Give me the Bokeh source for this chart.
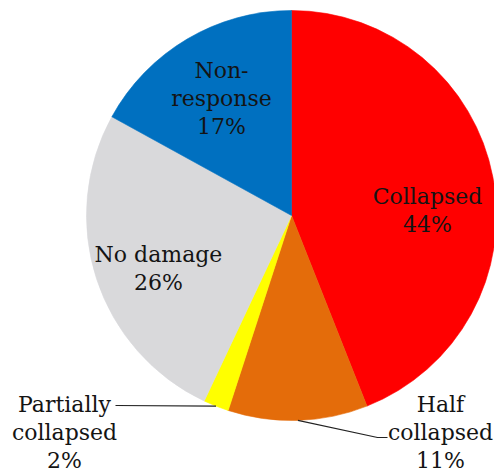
import math

from bokeh.embed import file_html
from bokeh.models import ColumnDataSource, Label, Range1d
from bokeh.plotting import figure
from bokeh.resources import INLINE

# Building damage survey shares, clockwise from 12 o'clock
categories = ["Collapsed", "Half collapsed", "Partially collapsed", "No damage", "Non-response"]
label_lines = [["Collapsed"], ["Half", "collapsed"], ["Partially", "collapsed"],
               ["No damage"], ["Non-", "response"]]
shares = [44, 11, 2, 26, 17]
colors = ["#FF0000", "#E46C0A", "#FFFF00", "#D9D9DB", "#0070C0"]

W, H = 494, 472
CX, CY, R = 291, 215, 205          # pie centre and radius in screen pixels
FONT = "DejaVu Serif"
FONT_SIZE = "22px"
LINE_STEP = 28


def sy(y_px):
    """Screen-pixel y (top-down) to data y (bottom-up)."""
    return H - y_px


p = figure(width=W, height=H, x_range=Range1d(0, W), y_range=Range1d(0, H),
           output_backend="svg", toolbar_location=None, min_border=0)
p.axis.visible = False
p.grid.visible = False
p.outline_line_color = None
p.background_fill_color = "white"
p.border_fill_color = "white"

total = float(sum(shares))
starts, ends, mids = [], [], []
cum = 0.0
for v in shares:
    a0 = math.pi / 2 - 2 * math.pi * cum / total
    cum += v
    a1 = math.pi / 2 - 2 * math.pi * cum / total
    starts.append(a0)
    ends.append(a1)
    mids.append((a0 + a1) / 2)

src = ColumnDataSource(dict(cat=categories, start=starts, end=ends, color=colors))
p.wedge(x=CX, y=sy(CY), radius=R, start_angle="start", end_angle="end",
        direction="clock", fill_color="color", line_color="color", line_width=0.6,
        source=src)

# Label anchor: centre x and first baseline (screen px) for each slice
label_anchor = {
    "Collapsed": (427, 196),
    "Half collapsed": (440, 404),
    "Partially collapsed": (64, 404),
    "No damage": (158, 254),
    "Non-response": (221, 70),
}

for cat, lines, v in zip(categories, label_lines, shares):
    ax, ay = label_anchor[cat]
    all_lines = lines + [f"{v}%"]
    for i, s in enumerate(all_lines):
        p.add_layout(Label(x=ax, y=sy(ay + i * LINE_STEP), text=s,
                           text_font=FONT, text_font_size=FONT_SIZE,
                           text_color="#141414", text_align="center",
                           text_baseline="alphabetic"))

# Leader lines from the small outer slices to their labels
leader_ends = {
    "Partially collapsed": [(115, 405)],
    "Half collapsed": [(377, 437), (387, 437)],
}
for cat, pts in leader_ends.items():
    i = categories.index(cat)
    px = CX + R * math.cos(mids[i])
    py = sy(CY) + R * math.sin(mids[i])
    xs = [px] + [q[0] for q in pts]
    ys = [py] + [sy(q[1]) for q in pts]
    p.line(xs, ys, line_color="#222222", line_width=1.2)

open("out.html", "w").write(file_html(p, INLINE))
